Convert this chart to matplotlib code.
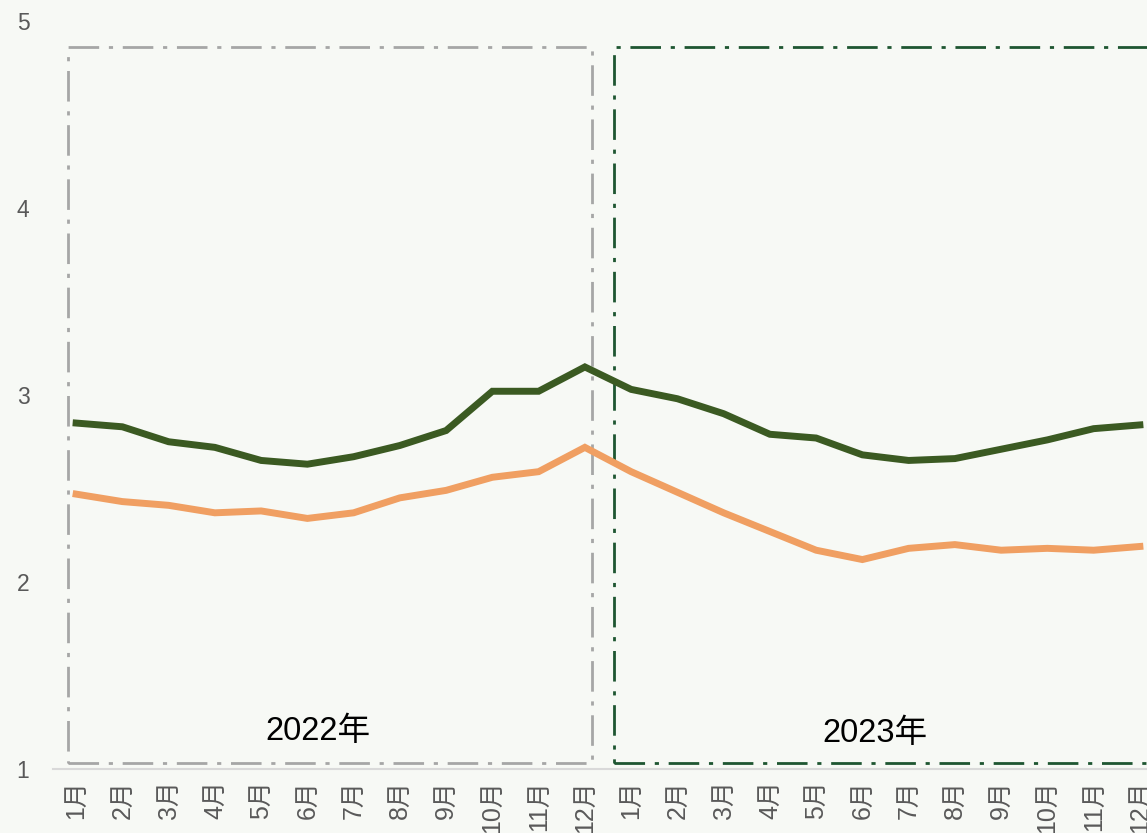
import matplotlib.pyplot as plt
from matplotlib.patches import Rectangle

plt.rcParams['font.family'] = ['Liberation Sans', 'Noto Sans CJK SC', 'DejaVu Sans']

months = [f'{m}月' for m in range(1, 13)] * 2
years = ['2022年', '2023年']

green_vals = [2.85, 2.83, 2.75, 2.72, 2.65, 2.63, 2.67, 2.73, 2.81, 3.02, 3.02, 3.15,
              3.03, 2.98, 2.90, 2.79, 2.77, 2.68, 2.65, 2.66, 2.71, 2.76, 2.82, 2.84]
orange_vals = [2.47, 2.43, 2.41, 2.37, 2.38, 2.34, 2.37, 2.45, 2.49, 2.56, 2.59, 2.72,
               2.59, 2.48, 2.37, 2.27, 2.17, 2.12, 2.18, 2.20, 2.17, 2.18, 2.17, 2.19]

bg = '#f7f9f5'
fig = plt.figure(figsize=(11.47, 8.33), dpi=100, facecolor=bg)
ax = fig.add_axes([53 / 1147, 64 / 833, 1110 / 1147, 748 / 833])
ax.set_facecolor(bg)

x = list(range(len(months)))
ax.plot(x, green_vals, color='#3b5a22', lw=5, solid_joinstyle='miter', zorder=3)
ax.plot(x, orange_vals, color='#f09f62', lw=5, solid_joinstyle='miter', zorder=3)

# year boxes
dash = (0, (11, 3.5, 1.5, 3.5))
ax.add_patch(Rectangle((-0.17, 1.03), 11.32, 3.83, fill=False, ec='#a6a6a6',
                       lw=2, ls=dash, clip_on=False, zorder=2))
ax.add_patch(Rectangle((11.63, 1.03), 12.2, 3.83, fill=False, ec='#1e5631',
                       lw=2, ls=dash, clip_on=False, zorder=2))
ax.text(5.23, 1.20, years[0], fontsize=23.5, ha='center', va='center', color='black')
ax.text(17.27, 1.19, years[1], fontsize=23.5, ha='center', va='center', color='black')

ax.set_xlim(-0.5, 23.5)
ax.set_ylim(1, 5)
ax.set_yticks([1, 2, 3, 4, 5])
ax.set_xticks(x)
ax.set_xticklabels(months, rotation=90)
ax.tick_params(axis='both', length=0, colors='#595959')
ax.tick_params(axis='x', pad=8, labelsize=18)
ax.tick_params(axis='y', pad=17, labelsize=16.5)
for s in ['top', 'right', 'left']:
    ax.spines[s].set_visible(False)
ax.spines['bottom'].set_color('#d9d9d9')
ax.spines['bottom'].set_linewidth(1.5)

fig.savefig('out.png', dpi=100, facecolor=bg)
